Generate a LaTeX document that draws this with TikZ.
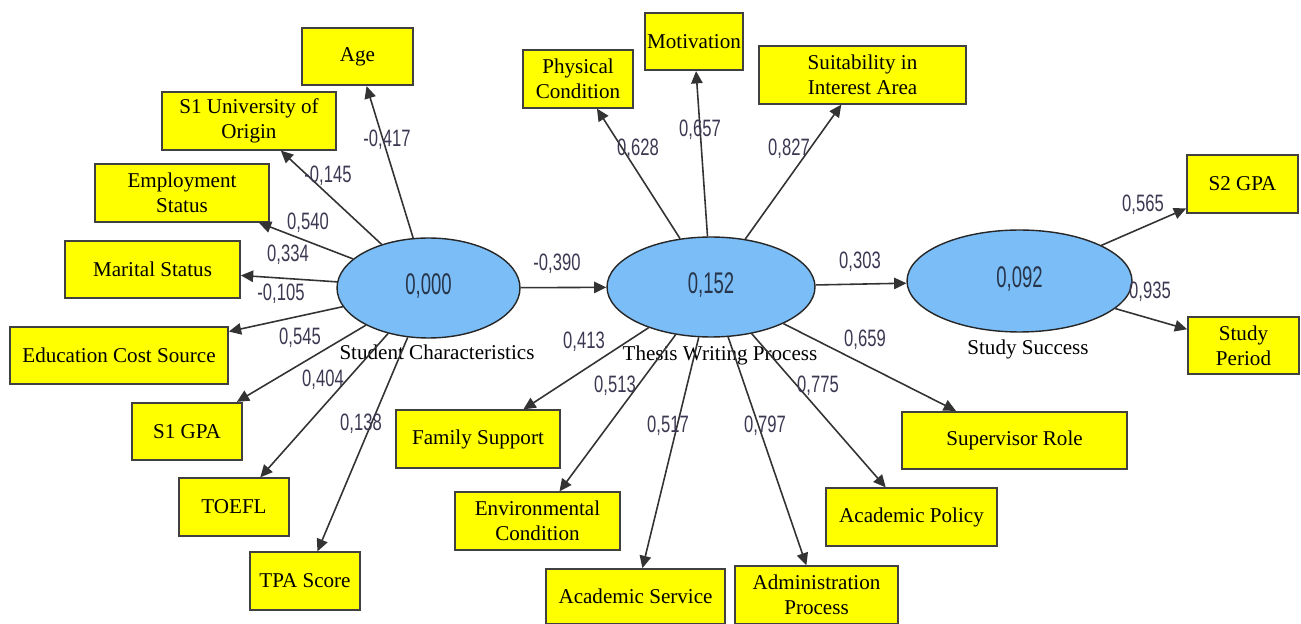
\documentclass[tikz,border=0pt]{standalone}
\usepackage{fontspec}
\setmainfont{Liberation Serif}
\newfontfamily\coeffont[FakeStretch=0.7]{Liberation Sans}
\newfontfamily\valfont[FakeStretch=0.62]{Liberation Sans}
\usepackage[HTML]{xcolor}
\usepackage{tikz}
\usetikzlibrary{positioning, arrows, arrows.meta, shapes.geometric}
\definecolor{boxyellow}{HTML}{FFFF00}
\definecolor{latblue}{HTML}{7BBEF7}
\definecolor{coefcol}{HTML}{3D3852}
\definecolor{valcol}{HTML}{27344A}

\begin{document}
\begin{tikzpicture}[x=0.02cm, y=-0.02cm,
  ind/.style={draw=black!75, line width=1pt, fill=boxyellow, align=center,
    minimum height=1.15cm, inner sep=1pt, font=\fontsize{12}{14}\selectfont},
  lat/.style={ellipse, draw=black!85, line width=0.8pt, fill=latblue, inner sep=0pt,
    text=valcol, font=\valfont\fontsize{17}{17}\selectfont},
  latname/.style={font=\fontsize{12}{14}\selectfont, inner sep=0pt},
  coef/.style={text=coefcol, font=\coeffont\fontsize{13.5}{13.5}\selectfont, inner sep=0pt},
  load/.style={draw=black!80, line width=0.9pt, -{Triangle[length=7pt,width=6.5pt]}}]
\useasboundingbox[fill=white] (0,0) rectangle (1301,624);

% latent variables
\node[lat, minimum width=3.66cm, minimum height=2cm] (sc) at (428.5,288) {\raisebox{4pt}{0,000}};
\node[lat, minimum width=4.16cm, minimum height=2cm] (twp) at (711,287) {\raisebox{4pt}{0,152}};
\node[lat, minimum width=4.5cm, minimum height=2.04cm] (ss) at (1019.5,281) {\raisebox{5pt}{0,092}};
\node[latname] (sclab) at (437,352) {Student Characteristics};
\node[latname] (twplab) at (720,355) {Thesis Writing Process};
\node[latname] (sslab) at (1028,349) {Study Success};

% indicators of student characteristics
\node[ind, minimum width=2.22cm] (age) at (357.5,56.5) {Age};
\node[ind, minimum width=3.48cm] (univ) at (249,121) {S1 University of\\Origin};
\node[ind, minimum width=3.48cm] (emp) at (182,193) {Employment\\Status};
\node[ind, minimum width=3.5cm] (mar) at (152.5,269.5) {Marital Status};
\node[ind, minimum width=4.36cm] (cost) at (119,355.5) {Education Cost Source};
\node[ind, minimum width=2.2cm] (sgpa) at (187,431.5) {S1 GPA};
\node[ind, minimum width=2.2cm] (toefl) at (234,507) {TOEFL};
\node[ind, minimum width=2.2cm] (tpa) at (305,581) {TPA Score};

% indicators of thesis writing process
\node[ind, minimum width=2.2cm] (phys) at (578,79) {Physical\\Condition};
\node[ind, minimum width=1.96cm] (motiv) at (694,41.5) {Motivation};
\node[ind, minimum width=4.14cm] (suit) at (862.5,75) {Suitability in\\Interest Area};
\node[ind, minimum width=3.28cm] (fam) at (478,439) {Family Support};
\node[ind, minimum width=3.3cm] (env) at (537.5,521) {Environmental\\Condition};
\node[ind, minimum width=3.58cm, minimum height=1.1cm] (aserv) at (635.5,596.5) {Academic Service};
\node[ind, minimum width=3.26cm] (admin) at (816.5,595) {Administration\\Process};
\node[ind, minimum width=3.42cm] (apol) at (911.5,517) {Academic Policy};
\node[ind, minimum width=4.5cm] (sup) at (1014.5,440.5) {Supervisor Role};

% indicators of study success
\node[ind, minimum width=2.22cm] (gpa2) at (1242.5,184) {S2 GPA};
\node[ind, minimum width=2.22cm] (period) at (1243.5,345.5) {Study\\Period};

% loadings
\foreach \t in {age,univ,emp,mar,cost,sgpa,toefl,tpa}
  \draw[load] (sc) -- (\t);
\foreach \t in {phys,motiv,suit,fam,env,aserv,admin,apol,sup}
  \draw[load] (twp) -- (\t);
\draw[load] (ss) -- (gpa2);
\draw[load] (ss) -- (period);
% structural paths
\draw[load] (sc) -- (twp);
\draw[load] (twp) -- (ss);

% coefficients
\node[coef] (cage) at (387,140) {-0,417};
\node[coef] (cuniv) at (328,176) {-0,145};
\node[coef] (cemp) at (308,223) {0,540};
\node[coef] (cmar) at (288,255) {0,334};
\node[coef] (ccost) at (281,294) {-0,105};
\node[coef] (csgpa) at (300,338) {0,545};
\node[coef] (ctoefl) at (323,380) {0,404};
\node[coef] (ctpa) at (361,424) {0,138};
\node[coef] (csctwp) at (557,264) {-0,390};
\node[coef] (cphys) at (638,149) {0,628};
\node[coef] (cmotiv) at (700,130) {0,657};
\node[coef] (csuit) at (789,149) {0,827};
\node[coef] (ctwpss) at (860,262) {0,303};
\node[coef] (cfam) at (584,342) {0,413};
\node[coef] (cenv) at (615,386) {0,513};
\node[coef] (caserv) at (668,426) {0,517};
\node[coef] (cadmin) at (765,426) {0,797};
\node[coef] (capol) at (818,386) {0,775};
\node[coef] (csup) at (865,340) {0,659};
\node[coef] (cgpa2) at (1143,205) {0,565};
\node[coef] (cperiod) at (1150,292) {0,935};
\end{tikzpicture}
\end{document}
